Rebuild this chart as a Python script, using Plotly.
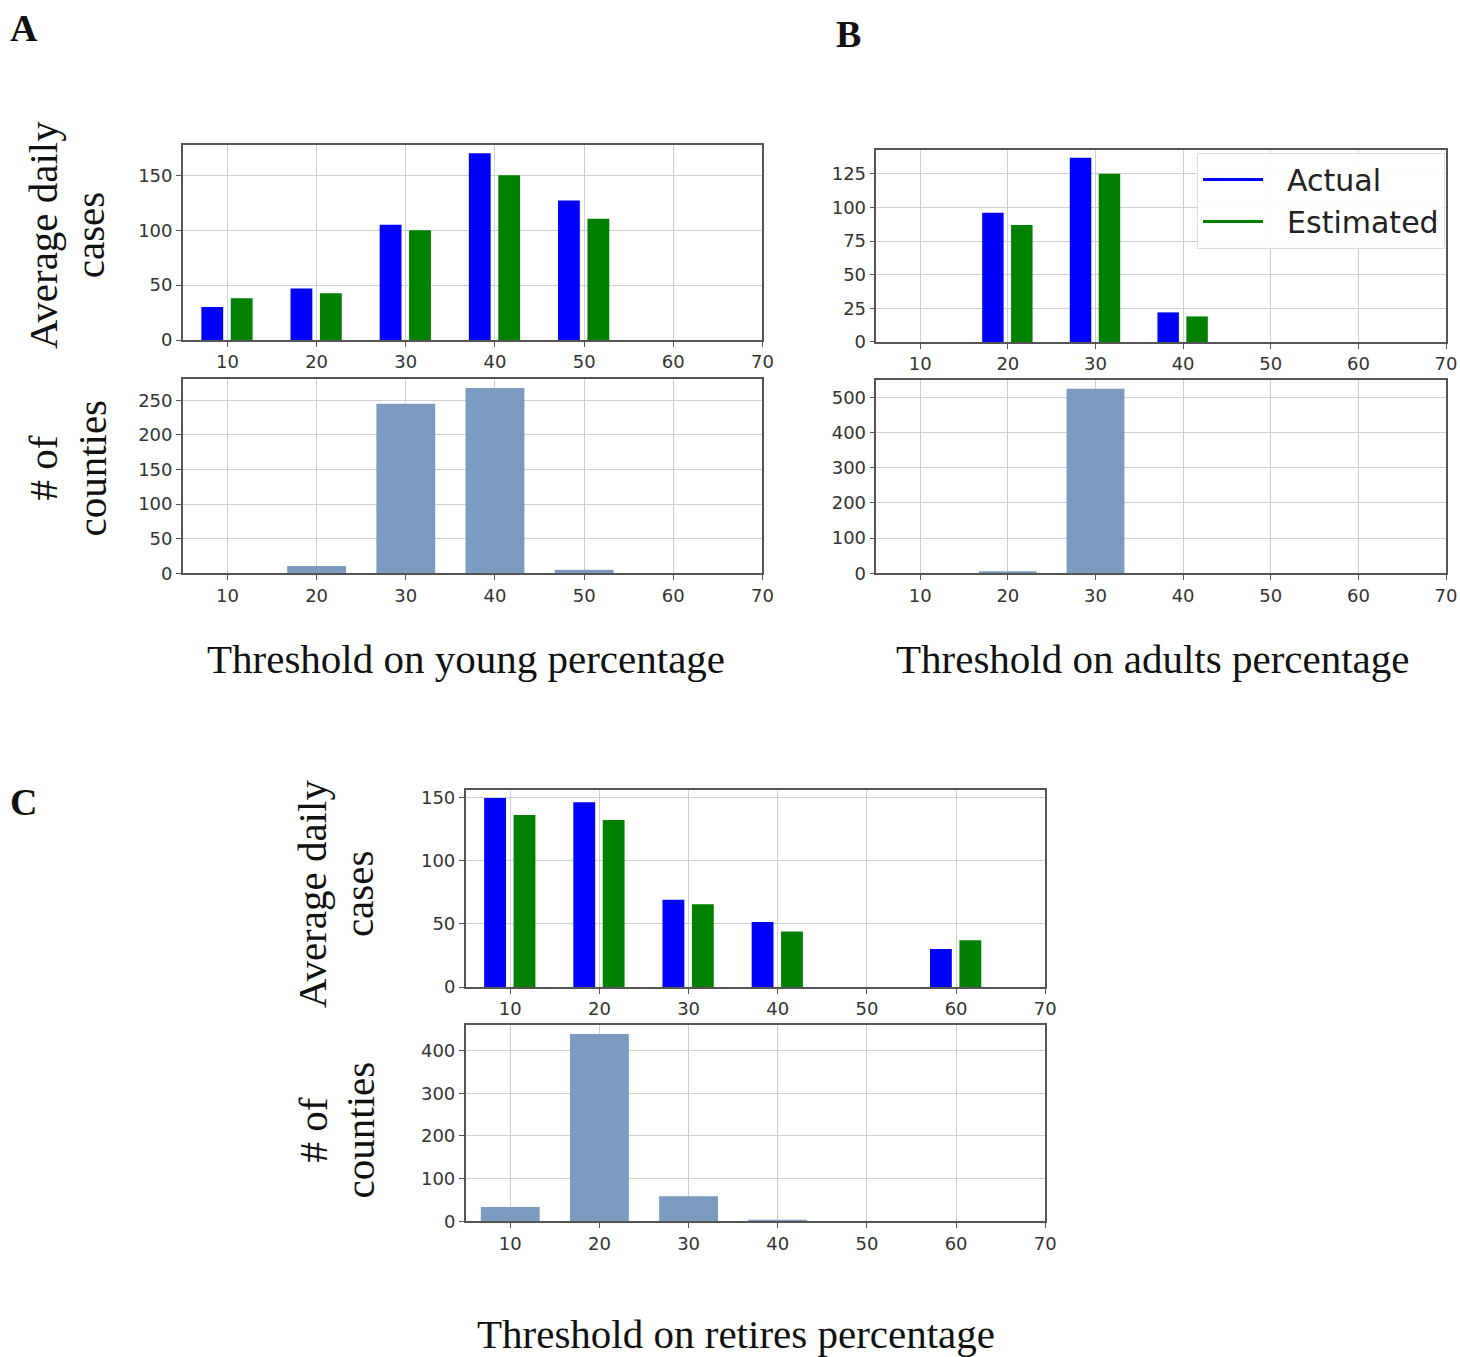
import plotly.graph_objects as go

# ---------------- data ----------------
thresholds = [10, 20, 30, 40, 50, 60]

young_actual = [30, 47, 105, 170, 127, None]
young_estimated = [38, 42.5, 100, 150, 110.5, None]
young_counties = [0, 10.5, 245, 268, 5, 0]

adults_actual = [None, 96, 137, 22, None, None]
adults_estimated = [None, 87, 125, 19, None, None]
adults_counties = [0, 6, 525, 0, 0, 0]

retires_actual = [149.5, 146, 69, 51.5, None, 30]
retires_estimated = [136, 132, 65.5, 44, None, 37]
retires_counties = [34, 439, 59, 4, 0, 0]

x_ticks = [10, 20, 30, 40, 50, 60, 70]
cases_ticks_A = [0, 50, 100, 150]
counties_ticks_A = [0, 50, 100, 150, 200, 250]
cases_ticks_B = [0, 25, 50, 75, 100, 125]
counties_ticks_B = [0, 100, 200, 300, 400, 500]
cases_ticks_C = [0, 50, 100, 150]
counties_ticks_C = [0, 100, 200, 300, 400]

# ---------------- style ----------------
REF_W, REF_H = 1460, 1357      # layout grid (reference pixels)
W, H = 1470, 1366              # figure size
BLUE = "#0000ff"
GREEN = "#008000"
STEEL = "#7b9cc0"
TICKFONT = dict(family="DejaVu Sans", size=18, color="#333333")
SERIF = "Liberation Serif"


def px_x(p):
    return p / REF_W


def px_y(p):
    return 1 - p / REF_H


def xd(a, b):
    return [px_x(a), px_x(b)]


def yd(top, bottom):
    return [px_y(bottom), px_y(top)]


fig = go.Figure()

panels = [
    ("x", "y", (183, 763), (142, 338), 178, cases_ticks_A, "cases", (young_actual, young_estimated)),
    ("x2", "y2", (183, 763), (377, 572), 281, counties_ticks_A, "counties", young_counties),
    ("x3", "y3", (877, 1447), (147, 340), 143, cases_ticks_B, "cases", (adults_actual, adults_estimated)),
    ("x4", "y4", (877, 1447), (378, 572), 550, counties_ticks_B, "counties", adults_counties),
    ("x5", "y5", (466, 1046), (789, 987), 156, cases_ticks_C, "cases", (retires_actual, retires_estimated)),
    ("x6", "y6", (466, 1046), (1025, 1222), 460, counties_ticks_C, "counties", retires_counties),
]

layout_axes = {}
for xa, ya, (x0, x1), (y0, y1), ymax, yticks, kind, data in panels:
    if kind == "cases":
        act, est = data
        fig.add_trace(go.Bar(x=thresholds, y=act, xaxis=xa, yaxis=ya,
                             marker=dict(color=BLUE, line=dict(width=0)),
                             width=2.45, offset=-2.93, showlegend=False, name="Actual"))
        fig.add_trace(go.Bar(x=thresholds, y=est, xaxis=xa, yaxis=ya,
                             marker=dict(color=GREEN, line=dict(width=0)),
                             width=2.45, offset=0.37, showlegend=False, name="Estimated"))
    else:
        fig.add_trace(go.Bar(x=thresholds, y=data, xaxis=xa, yaxis=ya,
                             marker=dict(color=STEEL, line=dict(width=0)),
                             width=6.6, offset=-3.3, showlegend=False, name="counties"))
    xkey = "xaxis" + xa[1:]
    ykey = "yaxis" + ya[1:]
    layout_axes[xkey] = dict(
        domain=xd(x0, x1), range=[5, 70], anchor=ya,
        tickmode="array", tickvals=x_ticks, ticktext=[str(t) for t in x_ticks],
        showgrid=True, gridcolor="#d0d0d0", gridwidth=1,
        showline=True, linecolor="#555555", linewidth=1.5, mirror=True,
        ticks="outside", ticklen=5, tickcolor="#555555", tickfont=TICKFONT,
        zeroline=False, fixedrange=True,
    )
    layout_axes[ykey] = dict(
        domain=yd(y0, y1), range=[0, ymax], anchor=xa,
        tickmode="array", tickvals=yticks, ticktext=[str(t) for t in yticks],
        showgrid=True, gridcolor="#d0d0d0", gridwidth=1,
        showline=True, linecolor="#555555", linewidth=1.5, mirror=True,
        ticks="outside", ticklen=5, tickcolor="#555555", tickfont=TICKFONT,
        zeroline=False, fixedrange=True,
    )

# legend entries drawn as line symbols (panel B)
fig.add_trace(go.Scatter(x=[None], y=[None], mode="lines", name="\u00a0\u00a0Actual",
                         line=dict(color=BLUE, width=3), xaxis="x3", yaxis="y3"))
fig.add_trace(go.Scatter(x=[None], y=[None], mode="lines", name="\u00a0\u00a0Estimated",
                         line=dict(color=GREEN, width=3), xaxis="x3", yaxis="y3"))

annotations = []


def txt(x, y, s, size, angle=0, bold=False):
    annotations.append(dict(
        x=px_x(x), y=px_y(y), xref="paper", yref="paper", text=("<b>%s</b>" % s) if bold else s,
        showarrow=False, textangle=angle, xanchor="center", yanchor="middle",
        font=dict(family=SERIF, size=size, color="#111111"),
    ))


txt(24, 25, "A", 38, bold=True)
txt(849, 31, "B", 38, bold=True)
txt(24, 801, "C", 38, bold=True)

txt(43, 232, "Average daily", 41, angle=-90)
txt(90, 232, "cases", 41, angle=-90)
txt(43, 466, "# of", 41, angle=-90)
txt(92, 466, "counties", 41, angle=-90)

txt(313, 893, "Average daily", 41, angle=-90)
txt(360, 893, "cases", 41, angle=-90)
txt(313, 1130, "# of", 41, angle=-90)
txt(360, 1130, "counties", 41, angle=-90)

txt(466, 658, "Threshold on young percentage", 41)
txt(1153, 658, "Threshold on adults percentage", 41)
txt(737, 1335, "Threshold on retires percentage", 41)

fig.update_layout(
    width=W, height=H,
    margin=dict(l=0, r=0, t=0, b=0),
    paper_bgcolor="white", plot_bgcolor="white",
    barmode="overlay",
    showlegend=True,
    legend=dict(
        x=px_x(1446), y=px_y(150), xanchor="right", yanchor="top",
        bgcolor="rgba(255,255,255,0.92)", bordercolor="#dddddd", borderwidth=1,
        font=dict(family="DejaVu Sans", size=30, color="#222222"),
        itemwidth=60, tracegroupgap=2,
    ),
    annotations=annotations,
    **layout_axes,
)

fig.write_html("out.html", config={"displayModeBar": False},
               post_script="document.body.style.margin='0';")
